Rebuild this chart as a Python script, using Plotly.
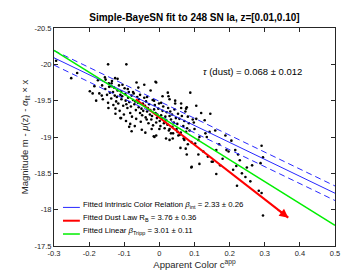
import plotly.graph_objects as go

# ---------------- data ----------------
color_app = [
    -0.294, -0.251, -0.234, -0.146, -0.094, -0.198, -0.164, -0.109, -0.083, -0.036,
    -0.144, -0.126, -0.119, -0.137, -0.065, -0.011, -0.043, 0.088, 0.026, 0.045,
    0.078, 0.105, 0.145, 0.159, 0.135, 0.188, 0.291, 0.295, 0.288, 0.264,
    0.249, 0.224, 0.216, 0.197, 0.221, 0.259, 0.283, 0.291, 0.162, 0.173,
    0.149, 0.092, 0.111, 0.075, 0.078, -0.014, -0.086, -0.079, -0.111, 0.069,
    0.054, 0.102, 0.111, 0.131, 0.295, 0.000, 0.029, 0.033, 0.019, 0.029,
    0.038, -0.009, 0.091, 0.071, 0.152, 0.162, 0.191, 0.229, 0.091, 0.114,
    0.219, 0.138, 0.076, 0.086, 0.100, 0.143, 0.114, 0.081, 0.052, -0.009,
    0.029, 0.024, 0.009, 0.062, 0.076, 0.119, 0.081, 0.095, 0.105, 0.129,
    -0.022, -0.016,
    -0.171, -0.163, -0.161, -0.154, -0.153, -0.149, -0.146, -0.143, -0.141, -0.137,
    -0.136, -0.131, -0.132, -0.127, -0.129, -0.123, -0.125, -0.119, -0.121, -0.115,
    -0.117, -0.111, -0.113, -0.108, -0.109, -0.103, -0.106, -0.099, -0.101, -0.096,
    -0.097, -0.091, -0.094, -0.087, -0.089, -0.083, -0.086, -0.079, -0.081, -0.075,
    -0.078, -0.071, -0.073, -0.067, -0.069, -0.063, -0.066, -0.059, -0.061, -0.055,
    -0.058, -0.051, -0.053, -0.047, -0.049, -0.043, -0.046, -0.039, -0.041, -0.035,
    -0.038, -0.031, -0.033, -0.027, -0.029, -0.023, -0.026, -0.019, -0.021, -0.015,
    -0.018, -0.011, -0.013, -0.007, -0.009, -0.003, -0.006, 0.001, -0.001, 0.005,
    0.003, 0.009, 0.007, 0.013, 0.011, 0.017, 0.015, 0.021, 0.019, 0.025,
    0.023, 0.029, 0.027, 0.033, 0.031, 0.037, 0.036, 0.041, 0.043, 0.047,
    0.049, 0.053, 0.051, 0.057, 0.061, 0.064, 0.068, 0.071, 0.074, 0.079,
    0.062, 0.084, 0.045, 0.058, 0.039,
    -0.185, -0.175, -0.155, -0.135, -0.105, -0.090, -0.075, -0.055, -0.035, -0.015,
    0.005, -0.060, -0.025, -0.180, -0.190, -0.145, -0.125, -0.095, -0.070, -0.050,
    -0.040, 0.245, 0.205, 0.180, 0.235, 0.170, 0.060, 0.125, 0.210, 0.098,
]
magnitude = [
    -20.05, -19.81, -19.88, -20.00, -20.00, -19.63, -19.57, -19.26, -19.18, -19.24,
    -19.74, -19.81, -19.80, -19.70, -19.75, -19.76, -19.72, -19.61, -19.56, -19.50,
    -19.41, -19.43, -19.32, -19.09, -19.00, -19.02, -18.88, -18.72, -18.64, -18.61,
    -18.58, -18.76, -18.82, -18.80, -18.33, -18.39, -18.26, -18.23, -18.49, -18.61,
    -18.66, -18.59, -18.76, -18.84, -18.76, -19.00, -19.14, -19.08, -19.26, -18.98,
    -19.02, -18.91, -18.96, -19.05, -17.92, -19.11, -19.11, -19.05, -18.98, -18.96,
    -18.98, -19.02, -18.93, -18.96, -18.66, -18.82, -18.82, -18.68, -18.58, -18.63,
    -18.60, -18.73, -19.07, -19.09, -19.11, -19.07, -19.00, -18.90, -19.07, -19.75,
    -19.52, -19.61, -19.56, -19.46, -19.39, -19.33, -19.28, -19.24, -19.25, -19.23,
    -19.11, -19.01,
    -19.60, -19.71, -19.52, -19.66, -19.79, -19.58, -19.47, -19.69, -19.61, -19.53,
    -19.74, -19.44, -19.62, -19.57, -19.68, -19.49, -19.39, -19.64, -19.55, -19.71,
    -19.46, -19.58, -19.36, -19.52, -19.63, -19.43, -19.56, -19.67, -19.31, -19.50,
    -19.59, -19.40, -19.45, -19.62, -19.54, -19.33, -19.48, -19.57, -19.42, -19.51,
    -19.28, -19.45, -19.60, -19.37, -19.49, -19.55, -19.25, -19.41, -19.47, -19.33,
    -19.52, -19.39, -19.21, -19.46, -19.30, -19.54, -19.36, -19.27, -19.43, -19.35,
    -19.49, -19.19, -19.40, -19.31, -19.45, -19.24, -19.37, -19.51, -19.29, -19.38,
    -19.16, -19.33, -19.44, -19.26, -19.20, -19.39, -19.31, -19.22, -19.46, -19.30,
    -19.15, -19.36, -19.25, -19.19, -19.42, -19.28, -19.12, -19.34, -19.23, -19.40,
    -19.17, -19.29, -19.09, -19.24, -19.35, -19.14, -19.31, -19.20, -19.38, -19.26,
    -19.11, -19.32, -19.18, -19.25, -19.06, -19.29, -19.15, -19.22, -19.35, -19.12,
    -19.40, -19.19, -19.46, -19.03, -19.05,
    -19.70, -19.78, -19.82, -19.77, -19.72, -19.66, -19.62, -19.58, -19.55, -19.50,
    -19.47, -19.68, -19.64, -19.50, -19.60, -19.40, -19.32, -19.22, -19.15, -19.10,
    -19.06, -18.45, -18.95, -18.70, -18.50, -18.90, -18.85, -18.80, -18.55, -19.20,
]

# fitted relations (line end points)
line_c = [-0.3, 0.5]
intrinsic_mag = [-20.09, -18.226]
intrinsic_lo = [-20.19, -18.326]
intrinsic_hi = [-19.99, -18.126]
tripp_mag = [-20.193, -17.785]
dust_c = [-0.067, 0.367]
dust_mag = [-19.52, -17.89]

x_ticks = [-0.3, -0.2, -0.1, 0, 0.1, 0.2, 0.3, 0.4, 0.5]
x_ticklabels = ["-0.3", "-0.2", "-0.1", "0", "0.1", "0.2", "0.3", "0.4", "0.5"]
y_ticks = [-20.5, -20, -19.5, -19, -18.5, -18, -17.5]
y_ticklabels = ["-20.5", "-20", "-19.5", "-19", "-18.5", "-18", "-17.5"]

legend_labels = [
    "Fitted Intrinsic Color Relation <i>β</i><sub>int</sub> = 2.33 ± 0.26",
    "Fitted Dust Law R<sub>B</sub> = 3.76 ± 0.36",
    "Fitted Linear <i>β</i><sub>Tripp</sub> = 3.01 ± 0.11",
]
legend_colors = ["#2828ff", "#ff0000", "#00ee00"]
legend_widths = [1, 2, 1.5]

FONT = "Liberation Sans, Arial, Helvetica, sans-serif"
TXT = "#262626"

fig = go.Figure()
fig.add_trace(go.Scatter(x=color_app, y=magnitude, mode="markers",
                         marker=dict(color="black", size=2.6), showlegend=False))
fig.add_trace(go.Scatter(x=line_c, y=intrinsic_hi, mode="lines",
                         line=dict(color="#2828ff", width=1, dash="6px,4px"), showlegend=False))
fig.add_trace(go.Scatter(x=line_c, y=intrinsic_lo, mode="lines",
                         line=dict(color="#2828ff", width=1, dash="6px,4px"), showlegend=False))
fig.add_trace(go.Scatter(x=line_c, y=intrinsic_mag, mode="lines",
                         line=dict(color="#2828ff", width=1), showlegend=False))
fig.add_trace(go.Scatter(x=dust_c, y=dust_mag, mode="lines",
                         line=dict(color="#ff0000", width=2), showlegend=False))
fig.add_trace(go.Scatter(x=line_c, y=tripp_mag, mode="lines",
                         line=dict(color="#00ee00", width=1.5), showlegend=False))

# arrow head at the end of the dust vector
fig.add_annotation(x=dust_c[1], y=dust_mag[1], ax=-12, ay=-9.3, xref="x", yref="y",
                   showarrow=True, arrowhead=2, arrowsize=1.1, arrowwidth=1.6,
                   arrowcolor="#ff0000", text="")

fig.add_annotation(x=0.266, y=-19.9, xref="x", yref="y", showarrow=False,
                   text="<i>τ</i> (dust) = 0.068 ± 0.012",
                   font=dict(family=FONT, size=9.5, color="black"))

# legend (drawn in paper coordinates, lower-left inside the axes)
leg_y = [0.177, 0.116, 0.055]
for lab, col, w, yy in zip(legend_labels, legend_colors, legend_widths, leg_y):
    fig.add_shape(type="line", xref="paper", yref="paper", x0=0.032, x1=0.092,
                  y0=yy, y1=yy, line=dict(color=col, width=w))
    fig.add_annotation(x=0.096, y=yy + 0.012, xref="paper", yref="paper", showarrow=False,
                       xanchor="left", yanchor="middle", text=lab,
                       font=dict(family=FONT, size=7.8, color="black"))

axis_common = dict(showline=True, linecolor=TXT, linewidth=1, mirror="ticks",
                   ticks="inside", ticklen=4, tickcolor=TXT, showgrid=False,
                   zeroline=False, tickfont=dict(family=FONT, size=7.5, color=TXT))

fig.update_xaxes(range=[-0.3, 0.5], tickvals=x_ticks, ticktext=x_ticklabels,
                 title=dict(text="Apparent Color c<sup>app</sup>",
                            font=dict(family=FONT, size=9.5, color=TXT), standoff=2),
                 **axis_common)
fig.update_yaxes(range=[-17.5, -20.5], tickvals=y_ticks, ticktext=y_ticklabels,
                 title=dict(text="Magnitude m - <i>μ</i>(z) - <i>α</i><sub>fit</sub> × x",
                            font=dict(family=FONT, size=9.5, color=TXT), standoff=4),
                 **axis_common)

fig.update_layout(
    width=360, height=271,
    margin=dict(l=46, r=33, t=20, b=31),
    paper_bgcolor="white", plot_bgcolor="white",
    showlegend=False,
    title=dict(text="<b>Simple-BayeSN fit to 248 SN Ia, z=[0.01,0.10]</b>",
               x=0.518, xanchor="center", y=0.965, yanchor="middle",
               font=dict(family=FONT, size=10, color="black")),
)

fig.write_html("out.html")
